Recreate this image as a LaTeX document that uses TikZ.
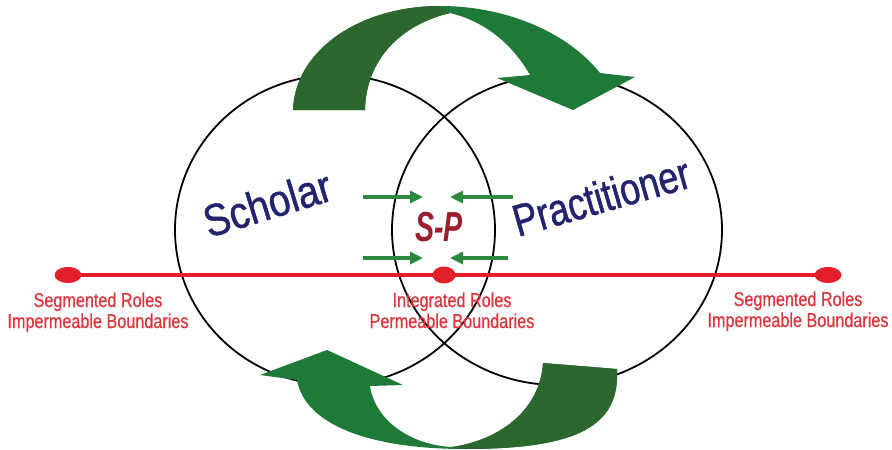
\documentclass[tikz,border=0pt]{standalone}
\usepackage{fontspec}
\setmainfont{Liberation Sans}
\newfontfamily\narrowfont{Liberation Sans}[FakeStretch=0.81,FakeBold=0.6]
\newfontfamily\schfont{Liberation Sans}[FakeStretch=0.86,FakeBold=1]
\newfontfamily\prafont{Liberation Sans}[FakeStretch=0.80,FakeBold=1]
\usetikzlibrary{arrows.meta,shapes.geometric}
\definecolor{redline}{RGB}{227,32,43}
\definecolor{redtext}{RGB}{222,52,60}
\definecolor{navy}{RGB}{35,35,110}
\definecolor{spred}{RGB}{155,29,46}
\definecolor{smallgreen}{RGB}{43,138,62}
\definecolor{darkgreen}{RGB}{44,104,46}
\definecolor{lightgreen}{RGB}{31,122,58}
\tikzset{
  ring/.style={draw=black,line width=1.8pt},
  roleline/.style={draw=redline,line width=4.5pt},
  roledot/.style={ellipse,fill=redline,inner sep=0pt},
  roletext/.style={text=redtext,font=\narrowfont\fontsize{20}{22}\selectfont,inner sep=0pt,anchor=base},
  bigword/.style={text=navy,inner sep=0pt,anchor=base west},
  flow/.style={draw=smallgreen,line width=3.5pt,-{Triangle[length=13pt,width=12pt]}},
}
\begin{document}
\begin{tikzpicture}[x=1pt,y=-1pt]
\useasboundingbox (0,0) rectangle (892,450);
% circles
\draw[ring] (335,230) ellipse [x radius=160, y radius=155];
\draw[ring] (557,230) ellipse [x radius=165, y radius=155];
% role line and dots
\coordinate (pl) at (68,275);
\coordinate (pr) at (828,275);
\draw[roleline] (pl) -- (pr);
\node[roledot,minimum width=27pt,minimum height=16pt] (dl) at (pl) {};
\node[roledot,minimum width=27pt,minimum height=16pt] (dr) at (pr) {};
\node[roledot,minimum width=23pt,minimum height=17pt] (dm) at (444,275) {};
% role texts
\node[roletext] (l1) at (98,307) {Segmented Roles};
\node[roletext] (l2) at (98,328) {Impermeable Boundaries};
\node[roletext] (m1) at (452,307) {Integrated Roles};
\node[roletext] (m2) at (452,328) {Permeable Boundaries};
\node[roletext] (r1) at (798,306) {Segmented Roles};
\node[roletext] (r2) at (798,327) {Impermeable Boundaries};
% words
\node[bigword,font=\schfont\fontsize{45}{48}\selectfont,rotate=17] (sch) at (209,238) {Scholar};
\node[bigword,font=\prafont\fontsize{45}{48}\selectfont,rotate=16] (pra) at (518,237) {Practitioner};
\node[text=spred,font=\bfseries\itshape\fontsize{42}{44}\selectfont,inner sep=0pt,anchor=base,xscale=0.68] (sp) at (439,241) {S-P};
% small arrows
\coordinate (a1s) at (363,197); \coordinate (a1e) at (423,197);
\coordinate (a2s) at (513,197); \coordinate (a2e) at (450,197);
\coordinate (a3s) at (363,258); \coordinate (a3e) at (423,258);
\coordinate (a4s) at (508,258); \coordinate (a4e) at (450,258);
\draw[flow] (a1s) -- (a1e);
\draw[flow] (a2s) -- (a2e);
\draw[flow] (a3s) -- (a3e);
\draw[flow] (a4s) -- (a4e);
% top big arrow
\fill[lightgreen] (293,110) .. controls (295,50) and (360,6) .. (440,6)
  .. controls (510,6) and (570,35) .. (600,73)
  -- (635,77) -- (573,110) -- (497,78) -- (530,75)
  .. controls (510,40) and (480,20) .. (450,13)
  .. controls (400,25) and (366,60) .. (365,110) -- cycle;
\fill[darkgreen] (293,110) .. controls (295,50) and (360,6) .. (440,6)
  -- (450,13) .. controls (400,25) and (366,60) .. (365,110) -- cycle;
% bottom big arrow
\fill[lightgreen] (543,363) -- (617,369) .. controls (620,425) and (580,449) .. (465,449)
  .. controls (370,449) and (305,425) .. (297,380)
  -- (260,375) -- (327,350) -- (403,385) -- (370,386)
  .. controls (375,420) and (410,445) .. (452,447)
  .. controls (500,440) and (540,410) .. (543,363) -- cycle;
\fill[darkgreen] (543,363) -- (617,369) .. controls (620,425) and (580,449) .. (465,449)
  -- (452,447) .. controls (500,440) and (540,410) .. (543,363) -- cycle;
\end{tikzpicture}
\end{document}
